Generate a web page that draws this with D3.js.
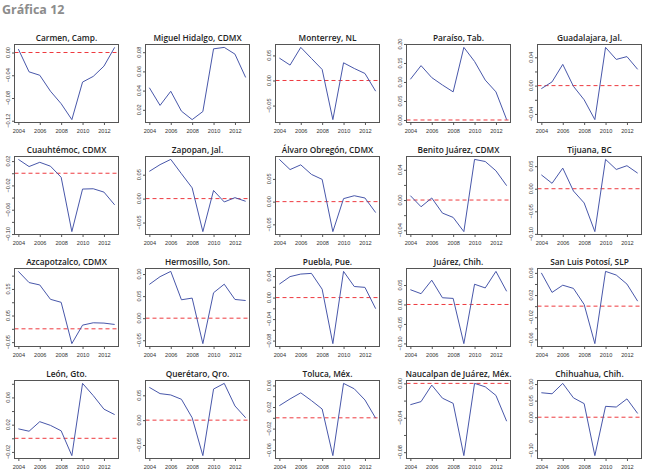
<!DOCTYPE html>
<html><head><meta charset="utf-8">
<script src="https://cdn.jsdelivr.net/npm/d3@7"></script>
<style>body{margin:0;background:#fff}svg{display:block}</style>
</head><body>
<svg id="c" width="656" height="470"></svg>
<script>
const years = [2004,2005,2006,2007,2008,2009,2010,2011,2012,2013];
const xTicks = [2004,2006,2008,2010,2012];
const titles = ["Carmen, Camp.","Miguel Hidalgo, CDMX","Monterrey, NL","Paraíso, Tab.","Guadalajara, Jal.",
  "Cuauhtémoc, CDMX","Zapopan, Jal.","Álvaro Obregón, CDMX","Benito Juárez, CDMX","Tijuana, BC",
  "Azcapotzalco, CDMX","Hermosillo, Son.","Puebla, Pue.","Juárez, Chih.","San Luis Potosí, SLP",
  "León, Gto.","Querétaro, Qro.","Toluca, Méx.","Naucalpan de Juárez, Méx.","Chihuahua, Chih."];

const carmen       = [0.006,-0.034,-0.040,-0.068,-0.090,-0.118,-0.052,-0.042,-0.024,0.009];
const miguelHidalgo= [0.043,0.0246,0.0393,0.0186,0.0098,0.0182,0.0835,0.085,0.078,0.0537];
const monterrey    = [0.0447,0.0307,0.066,0.044,0.022,-0.078,0.0353,0.024,0.014,-0.0213];
const paraiso      = [0.107,0.143,0.1115,0.092,0.074,0.191,0.154,0.105,0.074,0.001];
const guadalajara  = [-0.0043,0.0053,0.030,-0.001,-0.020,-0.048,0.054,0.037,0.041,0.023];
const cuauhtemoc   = [0.0228,0.011,0.018,0.0116,-0.0066,-0.096,-0.026,-0.0255,-0.031,-0.052];
const zapopan      = [0.057,0.071,0.082,0.052,0.0225,-0.069,0.017,-0.007,0.002,-0.0056];
const alvaroObregon= [0.093,0.0706,0.081,0.060,0.049,-0.066,0.0066,0.013,0.008,-0.024];
const benitoJuarez = [0.0058,-0.0089,0.0027,-0.0173,-0.023,-0.0418,0.0538,0.051,0.0387,0.019];
const tijuana      = [0.0307,0.012,0.0457,-0.005,-0.0315,-0.095,0.065,0.0427,0.051,0.0345];
const azcapotzalco = [0.216,0.174,0.165,0.111,0.0997,-0.0556,0.0139,0.0227,0.0215,0.0164];
const hermosillo   = [0.0765,0.094,0.106,0.0417,0.0455,-0.0576,0.0576,0.077,0.0424,0.040];
const puebla       = [0.025,0.039,0.0437,0.045,0.0156,-0.0856,0.0487,0.0206,0.019,-0.0206];
const juarez       = [0.038,0.0277,0.0624,0.0173,0.0156,-0.1005,0.052,0.0425,0.085,0.0338];
const sanLuisPotosi= [0.060,0.0248,0.0378,0.032,0.003,-0.0676,0.0627,0.0561,0.0398,0.009];
const leon         = [0.0139,0.0104,0.0244,0.019,0.011,-0.0254,0.0806,0.0627,0.0428,0.0348];
const queretaro    = [0.066,0.0534,0.0507,0.042,0.0048,-0.0714,0.0626,0.074,0.0286,0.0048];
const toluca       = [0.0225,0.035,0.0463,0.0319,0.0163,-0.070,0.0638,0.0538,0.0331,-0.0006];
const naucalpan    = [-0.0248,-0.0212,-0.002,-0.0172,-0.0232,-0.084,0.000,-0.004,-0.014,-0.044];
const chihuahua    = [0.0738,0.0707,0.102,0.0584,0.041,-0.1158,0.0328,0.0307,0.0553,0.0113];

const series = [carmen,miguelHidalgo,monterrey,paraiso,guadalajara,
  cuauhtemoc,zapopan,alvaroObregon,benitoJuarez,tijuana,
  azcapotzalco,hermosillo,puebla,juarez,sanLuisPotosi,
  leon,queretaro,toluca,naucalpan,chihuahua];

// all y tick values per panel
const yTicks = [
  [-0.12,-0.08,-0.04,0.00],
  [0.02,0.04,0.06,0.08],
  [-0.05,0.00,0.05],
  [0.00,0.05,0.10,0.15,0.20],
  [-0.04,-0.02,0.00,0.02,0.04],
  [-0.10,-0.08,-0.06,-0.04,-0.02,0.00,0.02],
  [-0.05,0.00,0.05],
  [-0.05,0.00,0.05],
  [-0.04,-0.02,0.00,0.02,0.04],
  [-0.10,-0.05,0.00,0.05],
  [-0.05,0.00,0.05,0.10,0.15,0.20],
  [-0.05,0.00,0.05,0.10],
  [-0.08,-0.06,-0.04,-0.02,0.00,0.02,0.04],
  [-0.10,-0.05,0.00,0.05],
  [-0.06,-0.04,-0.02,0.00,0.02,0.04,0.06],
  [-0.02,0.00,0.02,0.04,0.06,0.08],
  [-0.05,0.00,0.05],
  [-0.06,-0.04,-0.02,0.00,0.02,0.04,0.06],
  [-0.08,-0.06,-0.04,-0.02,0.00],
  [-0.10,-0.05,0.00,0.05,0.10]
];
// labelled y ticks per panel
const yLabels = [
  [-0.12,-0.08,-0.04,0.00],
  [0.02,0.04,0.06,0.08],
  [-0.05,0.00,0.05],
  [0.00,0.05,0.10,0.15,0.20],
  [-0.04,0.00,0.04],
  [-0.10,-0.06,-0.02,0.02],
  [-0.05,0.00,0.05],
  [-0.05,0.00,0.05],
  [-0.04,0.00,0.04],
  [-0.10,-0.05,0.00,0.05],
  [-0.05,0.05,0.15],
  [-0.05,0.00,0.05,0.10],
  [-0.08,-0.04,0.00,0.04],
  [-0.10,-0.05,0.00,0.05],
  [-0.06,-0.02,0.02,0.06],
  [-0.02,0.02,0.06],
  [-0.05,0.00,0.05],
  [-0.06,-0.02,0.02,0.06],
  [-0.08,-0.04,0.00],
  [-0.10,0.00,0.05,0.10]
];

const svg = d3.select("#c");
svg.append("text").attr("x",2).attr("y",14)
  .attr("font-family","Open Sans").attr("font-weight",700).attr("font-size",12.5)
  .attr("fill","#8c8c8c").text("Gráfica 12");

const colStep = 130.7, rowStep = 112, boxW = 104, boxH = 78, x0 = 13.8, y0 = 43.7;
const fmt = d3.format(".2f");
const tickFont = "Liberation Sans, Arial, sans-serif";

series.forEach((vals, i) => {
  const c = i % 5, r = Math.floor(i / 5);
  const left = Math.round(x0 + c * colStep) + 0.5;
  const top = Math.round(y0 + r * rowStep) + 0.5;
  const g = svg.append("g");

  const x = d3.scaleLinear().domain([2004 - 0.36, 2013 + 0.36]).range([left, left + boxW]);
  const ext = d3.extent(vals);
  const pad = (ext[1] - ext[0]) * 0.04;
  const y = d3.scaleLinear().domain([ext[0] - pad, ext[1] + pad]).range([top + boxH, top]);

  // title
  g.append("text").attr("x", left + boxW / 2).attr("y", top - 4)
    .attr("text-anchor","middle").attr("font-family","Open Sans").attr("font-weight",600)
    .attr("font-size",8.3).attr("fill","#222").text(titles[i]);

  // reference line at 0
  if (y.domain()[0] <= 0 && y.domain()[1] >= 0) {
    g.append("line").attr("x1", left).attr("x2", left + boxW)
      .attr("y1", y(0)).attr("y2", y(0))
      .attr("stroke","#ee3a3f").attr("stroke-width",1).attr("stroke-dasharray","4,3");
  }

  // series line
  g.append("path").datum(vals)
    .attr("d", d3.line().x((d, k) => x(years[k])).y(d => y(d)))
    .attr("fill","none").attr("stroke","#4857aa").attr("stroke-width",1);

  // box
  g.append("rect").attr("x", left).attr("y", top).attr("width", boxW).attr("height", boxH)
    .attr("fill","none").attr("stroke","#555").attr("stroke-width",1);

  // x axis
  const xa = g.append("g").attr("transform", `translate(0,${top + boxH})`)
    .call(d3.axisBottom(x).tickValues(xTicks).tickFormat(d3.format("d")).tickSize(2.5).tickPadding(4));
  xa.select(".domain").remove();
  xa.selectAll("line").attr("stroke","#555");
  xa.selectAll("text").attr("font-family", tickFont).attr("font-size",5.6).attr("fill","#333");

  // y axis ticks
  const ya = g.append("g").attr("transform", `translate(${left},0)`)
    .call(d3.axisLeft(y).tickValues(yTicks[i]).tickFormat("").tickSize(2.5));
  ya.select(".domain").remove();
  ya.selectAll("line").attr("stroke","#555");
  // y labels (rotated)
  g.selectAll(".yl").data(yLabels[i]).enter().append("text")
    .attr("transform", d => `translate(${left - 5},${y(d)}) rotate(-90)`)
    .attr("text-anchor","middle").attr("font-family", tickFont).attr("font-size",5.6)
    .attr("fill","#333").text(d => fmt(d));
});
</script>
</body></html>
